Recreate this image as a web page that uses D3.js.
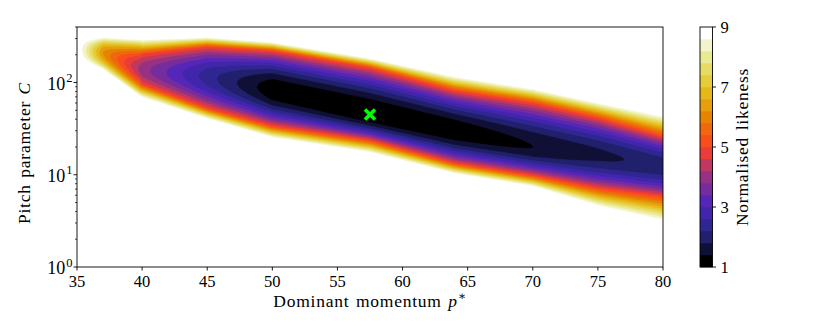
<!DOCTYPE html>
<html>
<head>
<meta charset="utf-8">
<script src="https://cdn.jsdelivr.net/npm/d3@7"></script>
<style>
  body { margin: 0; background: #fff; }
  text { font-family: "Liberation Serif", "DejaVu Serif", serif; fill: #000; }
  .label { font-size: 17.5px; letter-spacing: 0.75px; word-spacing: 1.5px; }
</style>
</head>
<body>
<div id="chart"></div>
<script>
// columns: dominant momentum p*, and for each column the
// position of the minimum, its value, and where the likeness reaches 5 and 9
var pStar   = [35.3, 37,   40,   45,   50,   57.5, 64,   70,   75,   80];
var ridgeC  = [225,  209,  137,  115,  83,   46,   29.8, 20,   16.4, 12.4];
var minLike = [8.8,  6.2,  4.0,  2.4,  1.1,  1.0,  1.1,  1.4,  1.7,  1.95];
var upperC5 = [null, null, 204,  243,  220,  144,  81,   60,   41,   25.7];
var upperC9 = [289,  312,  297,  312,  275,  185,  118,  87,   61.5, 44.5];
var lowerC5 = [null, null, 96,   53,   34,   23.8, 13.4, 9.9,  7.2,  5.9];
var lowerC9 = [176,  137,  68,   40,   25,   17.2, 10.2, 7.4,  4.5,  3.08];

var bestP = 57.5, bestC = 45;

var xTicks = [35, 40, 45, 50, 55, 60, 65, 70, 75, 80];
var yTicks = [1, 10, 100];
var cbTicks = [1, 3, 5, 7, 9];
var levels = d3.range(21).map(i => 1 + 0.4 * i);

// CMRmap
var cmapStops = [0, 0.125, 0.25, 0.375, 0.5, 0.625, 0.75, 0.875, 1];
var cmapColors = ["#000000", "#262680", "#4d26bf", "#993380", "#ff4026",
                  "#e68000", "#e6bf1a", "#e6e680", "#ffffff"];

(function() {
  var cmap = d3.scaleLinear().domain(cmapStops).range(cmapColors);
  var nBands = levels.length - 1;
  var bandColor = k => cmap(k / (nBands - 1));

  var width = 830, height = 332,
      plotL = 77, plotR = 663, plotT = 27, plotB = 267;

  var svg = d3.select("#chart").append("svg")
      .attr("width", width)
      .attr("height", height);

  var x = d3.scaleLinear().domain([35, 80]).range([plotL, plotR]);
  var y = d3.scaleLog().domain([1, 400]).range([plotB, plotT]);

  function lerp(arr, k, t, log) {
    var a = arr[k], b = arr[k + 1];
    if (a == null || b == null) return null;
    if (log) return Math.log10(a) * (1 - t) + Math.log10(b) * t;
    return a * (1 - t) + b * t;
  }

  function likeness(p, L) {
    if (p < pStar[0]) return 99;
    p = Math.min(p, pStar[pStar.length - 1]);
    var k = Math.min(d3.bisectRight(pStar, p) - 1, pStar.length - 2);
    var t = (p - pStar[k]) / (pStar[k + 1] - pStar[k]);
    var c = lerp(ridgeC, k, t, true),
        vmin = lerp(minLike, k, t, false),
        d5, d9, d = L - c;
    if (d >= 0) {
      var u5 = lerp(upperC5, k, t, true);
      d5 = u5 == null ? null : u5 - c;
      d9 = lerp(upperC9, k, t, true) - c;
    } else {
      var l5 = lerp(lowerC5, k, t, true);
      d = -d;
      d5 = l5 == null ? null : c - l5;
      d9 = c - lerp(lowerC9, k, t, true);
    }
    if (d5 == null || vmin >= 5) return vmin + (9 - vmin) * Math.pow(d / d9, 2);
    if (d <= d5) return vmin + (5 - vmin) * Math.pow(d / d5, 2);
    return 5 + 4 * (d - d5) / (d9 - d5);
  }

  // grid in (p*, log10 C)
  var p0 = 35, dp = 0.2, nx = 228,
      L0 = 2.65, dL = 0.01, ny = 268;
  var grid = new Array(nx * ny);
  for (var j = 0; j < ny; j++) {
    for (var i = 0; i < nx; i++) {
      grid[j * nx + i] = -likeness(p0 + i * dp, L0 - j * dL);
    }
  }

  // region where likeness <= level, from the widest (9) to the narrowest
  var contours = d3.contours()
      .size([nx, ny])
      .thresholds(levels.slice(1).map(v => -v))(grid);
  contours.sort((a, b) => a.value - b.value);

  var toPx = ([gx, gy]) => [x(p0 + (gx - 0.5) * dp), y(Math.pow(10, L0 - (gy - 0.5) * dL))];
  contours.forEach(c => {
    c.band = Math.round((-c.value - levels[0]) / 0.4) - 1;
    c.coordinates = c.coordinates.map(poly => poly.map(ring => ring.map(toPx)));
  });

  svg.append("clipPath").attr("id", "plotclip")
    .append("rect")
      .attr("x", plotL).attr("y", plotT)
      .attr("width", plotR - plotL).attr("height", plotB - plotT);

  var path = d3.geoPath();
  svg.append("g")
      .attr("clip-path", "url(#plotclip)")
    .selectAll("path")
    .data(contours)
    .join("path")
      .attr("d", path)
      .attr("fill", d => bandColor(d.band))
      .attr("stroke", d => bandColor(d.band))
      .attr("stroke-width", 0.3);

  // best fit marker
  svg.append("path")
      .attr("transform", "translate(" + x(bestP) + "," + y(bestC) + ")")
      .attr("d", "M-5,-5L5,5M-5,5L5,-5")
      .attr("stroke", "#00ff00")
      .attr("stroke-width", 3.6)
      .attr("fill", "none");

  // axes frame
  svg.append("rect")
      .attr("x", plotL).attr("y", plotT)
      .attr("width", plotR - plotL).attr("height", plotB - plotT)
      .attr("fill", "none").attr("stroke", "#000").attr("stroke-width", 0.9);

  var xAxis = svg.append("g");
  xAxis.selectAll("line").data(xTicks).join("line")
      .attr("x1", d => x(d)).attr("x2", d => x(d))
      .attr("y1", plotB).attr("y2", plotB + 3.5)
      .attr("stroke", "#000").attr("stroke-width", 0.9);
  xAxis.selectAll("text").data(xTicks).join("text")
      .attr("x", d => x(d)).attr("y", plotB + 19.5)
      .attr("text-anchor", "middle")
      .attr("font-size", "16.5px")
      .text(d => d);

  var minor = [];
  [1, 10, 100].forEach(dec => d3.range(2, 10).forEach(m => { if (dec * m <= 400) minor.push(dec * m); }));
  var yAxis = svg.append("g");
  yAxis.selectAll("line.minor").data(minor).join("line")
      .attr("class", "minor")
      .attr("x1", plotL - 2).attr("x2", plotL)
      .attr("y1", d => y(d)).attr("y2", d => y(d))
      .attr("stroke", "#000").attr("stroke-width", 0.7);
  yAxis.selectAll("line.major").data(yTicks).join("line")
      .attr("class", "major")
      .attr("x1", plotL - 3.5).attr("x2", plotL)
      .attr("y1", d => y(d)).attr("y2", d => y(d))
      .attr("stroke", "#000").attr("stroke-width", 0.9);
  var yLab = yAxis.selectAll("text").data(yTicks).join("text")
      .attr("x", plotL - 4.5).attr("y", d => y(d) + 7)
      .attr("text-anchor", "end")
      .attr("font-size", "18px");
  yLab.append("tspan").text("10");
  yLab.append("tspan")
      .attr("font-size", "12.5px")
      .attr("dx", 1)
      .attr("dy", -7.5)
      .text(d => Math.round(Math.log10(d)));

  svg.append("text")
      .attr("class", "label")
      .attr("x", x(57.5)).attr("y", 307)
      .attr("text-anchor", "middle")
      .html("Dominant momentum <tspan font-style='italic'>p</tspan><tspan font-size='12px' dy='-7'>∗</tspan>");

  svg.append("text")
      .attr("class", "label")
      .attr("transform", "translate(30,153) rotate(-90)")
      .attr("text-anchor", "middle")
      .html("Pitch parameter <tspan font-style='italic'>C</tspan>");

  // colorbar
  var cbX = 700, cbW = 12.5;
  var cb = d3.scaleLinear().domain([1, 9]).range([plotB, plotT]);
  var cbg = svg.append("g");
  cbg.selectAll("rect").data(d3.range(nBands)).join("rect")
      .attr("x", cbX).attr("width", cbW)
      .attr("y", k => cb(levels[k + 1]))
      .attr("height", k => cb(levels[k]) - cb(levels[k + 1]) + 0.3)
      .attr("fill", k => bandColor(k));
  cbg.append("rect")
      .attr("x", cbX).attr("y", plotT).attr("width", cbW).attr("height", plotB - plotT)
      .attr("fill", "none").attr("stroke", "#000").attr("stroke-width", 0.9);
  cbg.selectAll("line").data(cbTicks).join("line")
      .attr("x1", cbX + cbW).attr("x2", cbX + cbW + 3.5)
      .attr("y1", d => cb(d)).attr("y2", d => cb(d))
      .attr("stroke", "#000").attr("stroke-width", 0.9);
  cbg.selectAll("text").data(cbTicks).join("text")
      .attr("x", cbX + cbW + 8).attr("y", d => cb(d) + 6)
      .attr("font-size", "16.5px")
      .text(d => d);
  svg.append("text")
      .attr("class", "label")
      .attr("transform", "translate(748,147) rotate(-90)")
      .attr("text-anchor", "middle")
      .text("Normalised likeness");
})();
</script>
</body>
</html>
